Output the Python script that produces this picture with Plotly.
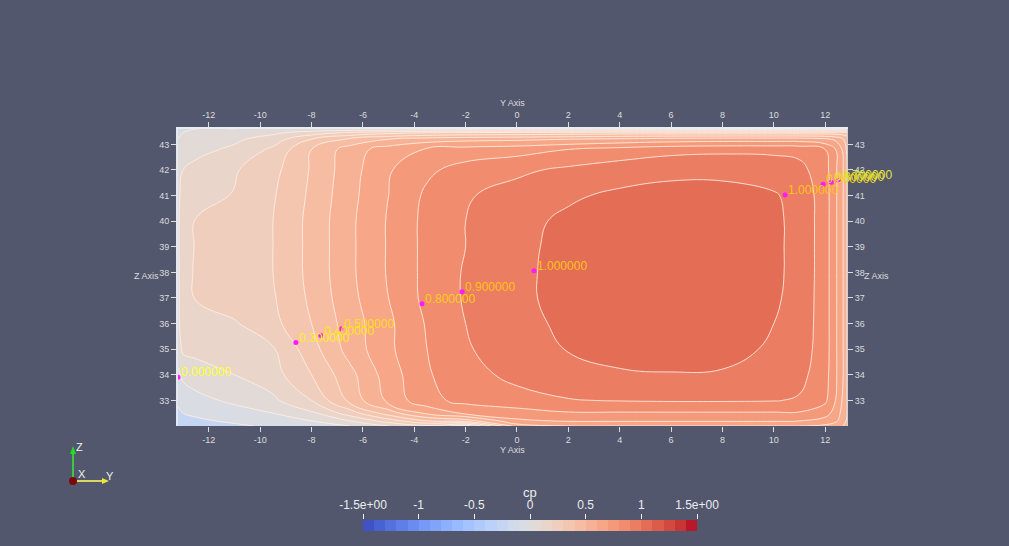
import numpy as np
import plotly.graph_objects as go

# ---------------- data ----------------
y_coords = [-13.2, -13.0, -12.5, -11.0, -9.5, -8.0, -6.5, -5.0, -3.5, -2.0, 0.0,
            2.0, 4.0, 6.0, 8.0, 10.0, 11.0, 12.0, 12.4, 12.7, 12.85]
z_coords = [32.0, 32.2, 32.5, 33.0, 34.0, 35.0, 36.0, 37.0, 38.0, 39.0, 40.0,
            41.0, 42.0, 42.8, 43.2, 43.45, 43.6]

cp_values = [
    [-0.20, -0.18, -0.15, -0.12, -0.08, -0.05, 0.00, 0.10, 0.18, 0.05, 0.55, 0.60, 0.60, 0.60, 0.60, 0.60, 0.60, 0.58, 0.55, 0.50, 0.45],
    [-0.15, -0.14, -0.12, -0.08, -0.05, 0.00, 0.10, 0.25, 0.40, 0.45, 0.68, 0.71, 0.71, 0.71, 0.71, 0.71, 0.70, 0.66, 0.62, 0.55, 0.48],
    [-0.12, -0.10, -0.08, -0.04, 0.00, 0.08, 0.25, 0.45, 0.62, 0.72, 0.76, 0.79, 0.79, 0.79, 0.79, 0.79, 0.79, 0.74, 0.66, 0.56, 0.50],
    [-0.08, -0.05, -0.03, 0.02, 0.08, 0.20, 0.43, 0.63, 0.77, 0.83, 0.86, 0.895, 0.905, 0.91, 0.91, 0.905, 0.89, 0.82, 0.70, 0.58, 0.50],
    [-0.02, 0.02, 0.05, 0.10, 0.16, 0.30, 0.47, 0.65, 0.79, 0.86, 0.93, 0.96, 0.99, 0.995, 0.99, 0.96, 0.93, 0.84, 0.72, 0.60, 0.50],
    [0.05, 0.12, 0.13, 0.15, 0.19, 0.36, 0.54, 0.68, 0.80, 0.89, 0.955, 1.005, 1.03, 1.04, 1.035, 0.985, 0.95, 0.85, 0.72, 0.60, 0.50],
    [0.08, 0.15, 0.17, 0.19, 0.27, 0.40, 0.55, 0.68, 0.81, 0.90, 0.97, 1.02, 1.05, 1.06, 1.055, 1.00, 0.96, 0.85, 0.72, 0.60, 0.50],
    [0.08, 0.16, 0.205, 0.25, 0.29, 0.42, 0.57, 0.70, 0.83, 0.91, 0.98, 1.03, 1.06, 1.07, 1.065, 1.015, 0.965, 0.85, 0.72, 0.60, 0.50],
    [0.08, 0.17, 0.21, 0.26, 0.30, 0.43, 0.58, 0.71, 0.83, 0.91, 0.98, 1.03, 1.06, 1.07, 1.07, 1.02, 0.97, 0.85, 0.72, 0.60, 0.50],
    [0.08, 0.17, 0.205, 0.25, 0.30, 0.43, 0.58, 0.71, 0.83, 0.90, 0.975, 1.03, 1.06, 1.07, 1.07, 1.02, 0.97, 0.85, 0.72, 0.60, 0.50],
    [0.08, 0.17, 0.205, 0.25, 0.30, 0.43, 0.58, 0.71, 0.83, 0.90, 0.97, 1.02, 1.05, 1.065, 1.065, 1.02, 0.97, 0.85, 0.72, 0.60, 0.50],
    [0.07, 0.15, 0.17, 0.205, 0.29, 0.42, 0.57, 0.70, 0.82, 0.89, 0.94, 0.985, 1.02, 1.04, 1.04, 1.01, 0.965, 0.85, 0.72, 0.60, 0.50],
    [0.05, 0.10, 0.13, 0.19, 0.27, 0.41, 0.56, 0.69, 0.78, 0.84, 0.88, 0.92, 0.95, 0.97, 0.97, 0.95, 0.93, 0.84, 0.72, 0.60, 0.50],
    [0.02, 0.05, 0.07, 0.12, 0.22, 0.40, 0.55, 0.65, 0.71, 0.74, 0.76, 0.80, 0.84, 0.87, 0.88, 0.88, 0.87, 0.80, 0.70, 0.58, 0.48],
    [0.00, 0.03, 0.05, 0.08, 0.15, 0.30, 0.42, 0.50, 0.55, 0.57, 0.58, 0.60, 0.62, 0.64, 0.65, 0.65, 0.65, 0.62, 0.58, 0.50, 0.45],
    [-0.03, 0.00, 0.02, 0.04, 0.08, 0.15, 0.22, 0.27, 0.30, 0.32, 0.33, 0.34, 0.35, 0.35, 0.35, 0.35, 0.35, 0.35, 0.35, 0.35, 0.35],
    [-0.05, -0.03, 0.00, 0.00, 0.02, 0.03, 0.03, 0.03, 0.03, 0.03, 0.03, 0.03, 0.03, 0.03, 0.03, 0.03, 0.03, 0.03, 0.03, 0.03, 0.03],
]

# contour label anchors (Y, Z) and texts
label_y = [-13.2, -8.61, -7.64, -6.86, -3.70, -2.14, 0.66, 10.44, 11.92, 12.24, 12.52]
label_z = [33.90, 35.26, 35.53, 35.80, 36.77, 37.24, 38.06, 41.02, 41.44, 41.52, 41.60]
label_text = ["0.000000", "0.300000", "0.400000", "0.500000", "0.800000", "0.900000",
              "1.000000", "1.000000", "0.900000", "0.800000", "0.700000"]
label_color = ["#ffff2e", "#ffee22", "#ffe422", "#ffdd22", "#ffcc1a", "#ffc21a",
               "#ffc21a", "#ffc21a", "#f5d21a", "#e8e030", "#e0e43a"]

y_ticks = [-12, -10, -8, -6, -4, -2, 0, 2, 4, 6, 8, 10, 12]
y_tick_labels = ["-12", "-10", "-8", "-6", "-4", "-2", "0", "2", "4", "6", "8", "10", "12"]
z_ticks = [33, 34, 35, 36, 37, 38, 39, 40, 41, 42, 43]
cb_ticks = [-1.5, -1, -0.5, 0, 0.5, 1, 1.5]
cb_ticktext = ["-1.5e+00", "-1", "-0.5", "0", "0.5", "1", "1.5e+00"]
cb_bins = 30

# ParaView "Cool to Warm"
cw_rgb = [(59, 76, 192), (68, 90, 204), (77, 104, 215), (87, 117, 225), (98, 130, 234),
          (108, 142, 241), (119, 154, 247), (130, 165, 251), (141, 176, 254), (152, 185, 255),
          (163, 194, 255), (174, 201, 253), (184, 208, 249), (194, 213, 244), (204, 217, 238),
          (213, 219, 230), (221, 221, 221), (229, 216, 209), (236, 211, 197), (241, 204, 185),
          (245, 196, 173), (247, 187, 160), (247, 177, 148), (247, 166, 135), (244, 154, 123),
          (241, 141, 111), (236, 127, 99), (229, 112, 88), (222, 96, 77), (213, 80, 66),
          (203, 62, 56), (192, 40, 47), (180, 4, 38)]
colorscale = [[i / (len(cw_rgb) - 1), "rgb(%d,%d,%d)" % c] for i, c in enumerate(cw_rgb)]

# ---------------- layout helpers ----------------
W, H = 1009, 546
BG = "#52576e"
def px(x):
    return x / W
def py(y):
    return 1 - y / H

FONT = "Liberation Sans, Arial, sans-serif"
TICKC = "#dcdcdc"

fig = go.Figure()

fig.add_trace(go.Contour(
    x=y_coords, y=z_coords, z=cp_values,
    zmin=-1.5, zmax=1.5, colorscale=colorscale,
    contours=dict(start=-1.5, end=1.5, size=0.1, coloring="fill"),
    line=dict(color="rgba(255,238,228,0.85)", width=1, smoothing=1.2),
    showscale=False, hoverinfo="skip",
))

# label anchor dots (on overlay axes so they are drawn)
fig.add_trace(go.Scatter(
    x=label_y, y=label_z, mode="markers", xaxis="x3", yaxis="y3",
    marker=dict(color="#ff1aff", size=5), hoverinfo="skip", showlegend=False,
))

# colour legend bar
edges = np.linspace(-1.5, 1.5, cb_bins + 1)
centers = (edges[:-1] + edges[1:]) / 2
fig.add_trace(go.Heatmap(
    x=centers, y=[0], z=[centers], xaxis="x2", yaxis="y2",
    zmin=-1.5, zmax=1.5, colorscale=colorscale, showscale=False, hoverinfo="skip",
))

x_dom = [px(178), px(847)]
y_dom = [py(426), py(129)]
axis_common = dict(showgrid=False, zeroline=False, ticks="outside", ticklen=5,
                   tickwidth=1, tickcolor=TICKC, automargin=False,
                   tickfont=dict(family=FONT, size=9, color=TICKC))

fig.update_layout(
    width=W, height=H, margin=dict(l=0, r=0, t=0, b=0, autoexpand=False),
    paper_bgcolor=BG, plot_bgcolor=BG, showlegend=False,
    xaxis=dict(domain=x_dom, range=[-13.2, 12.85], anchor="y", side="bottom",
               tickvals=y_ticks, ticktext=y_tick_labels, showline=False, **axis_common),
    xaxis3=dict(domain=x_dom, matches="x", overlaying="x", anchor="y", side="top",
                tickvals=y_ticks, ticktext=y_tick_labels, showline=True,
                linecolor="rgba(240,244,252,0.95)", linewidth=2, **axis_common),
    yaxis=dict(domain=y_dom, range=[32.0, 43.6], anchor="x", side="left",
               tickvals=z_ticks, showline=True, linecolor="rgba(235,240,252,0.95)",
               linewidth=2, **axis_common),
    yaxis3=dict(domain=y_dom, matches="y", overlaying="y", anchor="x", side="right",
                tickvals=z_ticks, showline=True, linecolor="rgba(240,240,240,0.8)",
                linewidth=1, **axis_common),
    xaxis2=dict(domain=[px(363), px(697)], range=[-1.5, 1.5], anchor="y2", side="top",
                tickvals=cb_ticks, ticktext=cb_ticktext, ticks="outside", ticklen=5,
                tickcolor="#f0f0f0", tickwidth=1, showgrid=False, zeroline=False,
                showline=False, automargin=False,
                tickfont=dict(family=FONT, size=12, color="#ececec")),
    yaxis2=dict(domain=[py(531), py(520)], range=[-0.5, 0.5], anchor="x2",
                visible=False, automargin=False),
)

annotations = []
for yy, zz, t, c in zip(label_y, label_z, label_text, label_color):
    annotations.append(dict(x=yy, y=zz, xref="x", yref="y", text=t, showarrow=False,
                            xanchor="left", yanchor="bottom", xshift=1, yshift=-4,
                            font=dict(family=FONT, size=12, color=c)))

for (x, y, t) in [(512, 103, "Y Axis"), (512, 450, "Y Axis"),
                  (146, 276, "Z Axis"), (876, 276, "Z Axis")]:
    annotations.append(dict(x=px(x), y=py(y), xref="paper", yref="paper", text=t,
                            showarrow=False, xanchor="center", yanchor="middle",
                            font=dict(family=FONT, size=9, color=TICKC)))

annotations.append(dict(x=px(530), y=py(492), xref="paper", yref="paper", text="cp",
                        showarrow=False, xanchor="center", yanchor="middle",
                        font=dict(family=FONT, size=13, color="#ececec")))

# orientation triad
for (x, y, t, c) in [(79, 447, "Z", "#f0f0f0"), (82, 474, "X", "#f0f0f0"),
                     (110, 476, "Y", "#f0f0f0")]:
    annotations.append(dict(x=px(x), y=py(y), xref="paper", yref="paper", text=t,
                            showarrow=False, xanchor="center", yanchor="middle",
                            font=dict(family=FONT, size=11, color=c)))
fig.update_layout(annotations=annotations)

shapes = [
    dict(type="line", xref="paper", yref="paper", x0=px(73), y0=py(481), x1=px(73), y1=py(450),
         line=dict(color="#3cc83c", width=2)),
    dict(type="line", xref="paper", yref="paper", x0=px(73), y0=py(481), x1=px(105), y1=py(481),
         line=dict(color="#d8d860", width=2)),
    dict(type="path", xref="paper", yref="paper",
         path="M %f %f L %f %f L %f %f Z" % (px(70), py(454), px(76), py(454), px(73), py(446)),
         fillcolor="#22dd22", line=dict(width=0)),
    dict(type="path", xref="paper", yref="paper",
         path="M %f %f L %f %f L %f %f Z" % (px(102), py(478), px(102), py(484), px(109), py(481)),
         fillcolor="#e8e830", line=dict(width=0)),
    dict(type="circle", xref="paper", yref="paper", x0=px(69), y0=py(477), x1=px(77), y1=py(485),
         fillcolor="#7a0a0a", line=dict(width=0)),
]
fig.update_layout(shapes=shapes)

fig.write_html("out.html", include_plotlyjs=True, full_html=True,
               config={"displayModeBar": False},
               post_script="document.body.style.margin='0';document.body.style.overflow='hidden';")
